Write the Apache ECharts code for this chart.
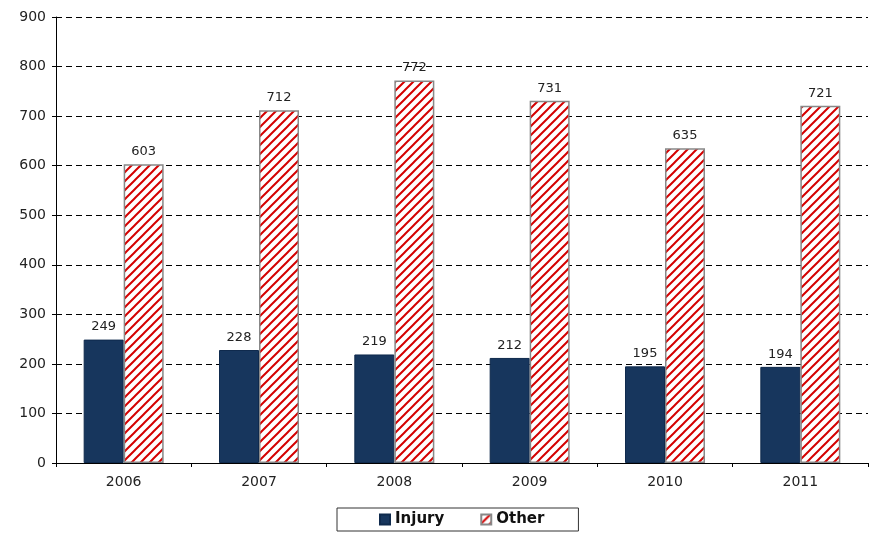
<!DOCTYPE html>
<html>
<head>
<meta charset="utf-8">
<script src="https://cdn.jsdelivr.net/npm/echarts@6/dist/echarts.min.js"></script>
<style>
  html, body { margin: 0; padding: 0; background: #fff; }
  #main { width: 872px; height: 535px; }
</style>
</head>
<body>
<div id="main"></div>
<script>
var years = ['2006', '2007', '2008', '2009', '2010', '2011'];
var injury = [249, 228, 219, 212, 195, 194];
var other = [603, 712, 772, 731, 635, 721];

// red diagonal hatch
function makeHatch() {
  var s = 9;
  var c = document.createElement('canvas');
  c.width = s; c.height = s;
  var ctx = c.getContext('2d');
  ctx.fillStyle = '#fff';
  ctx.fillRect(0, 0, s, s);
  ctx.strokeStyle = '#d40000';
  ctx.lineWidth = 2;
  ctx.beginPath();
  ctx.moveTo(-2, s + 2); ctx.lineTo(s + 2, -2);
  ctx.moveTo(-2, 2); ctx.lineTo(2, -2);
  ctx.moveTo(s - 2, s + 2); ctx.lineTo(s + 2, s - 2);
  ctx.stroke();
  return c;
}

var chart = echarts.init(document.getElementById('main'));
chart.setOption({
  animation: false,
  textStyle: { fontFamily: 'DejaVu Sans' },
  grid: { left: 56, right: 4, top: 17, bottom: 72 },
  legend: {
    bottom: 4,
    left: 337,
    itemWidth: 10,
    itemHeight: 10,
    itemGap: 36,
    padding: [4, 34, 4, 42],
    borderColor: '#333',
    borderWidth: 1,
    textStyle: { fontWeight: 'bold', fontSize: 15, color: '#111' },
    data: [{ name: 'Injury', icon: 'rect' }, { name: 'Other', icon: 'rect' }]
  },
  xAxis: {
    type: 'category',
    data: years,
    axisLine: { lineStyle: { color: '#000' } },
    axisTick: { show: true, length: 4, lineStyle: { color: '#000' } },
    axisLabel: { color: '#222', fontSize: 14, margin: 12 }
  },
  yAxis: {
    type: 'value',
    min: 0,
    max: 900,
    interval: 100,
    axisLine: { show: true, lineStyle: { color: '#000' } },
    axisTick: { show: true, length: 4, lineStyle: { color: '#000' } },
    axisLabel: { color: '#222', fontSize: 14, margin: 10 },
    splitLine: { lineStyle: { color: '#000', type: [6, 4], width: 1 } }
  },
  series: [
    {
      name: 'Injury',
      type: 'bar',
      data: injury,
      barWidth: 40,
      barGap: '0%',
      itemStyle: { color: '#17365d', borderColor: '#0f2a4d', borderWidth: 1 },
      label: { show: true, position: 'top', color: '#222', fontSize: 13, distance: 6 }
    },
    {
      name: 'Other',
      type: 'bar',
      data: other,
      barWidth: 40,
      itemStyle: {
        color: { image: makeHatch(), repeat: 'repeat' },
        borderColor: '#888',
        borderWidth: 1.5
      },
      label: { show: true, position: 'top', color: '#222', fontSize: 13, distance: 6 }
    }
  ]
});
</script>
</body>
</html>
